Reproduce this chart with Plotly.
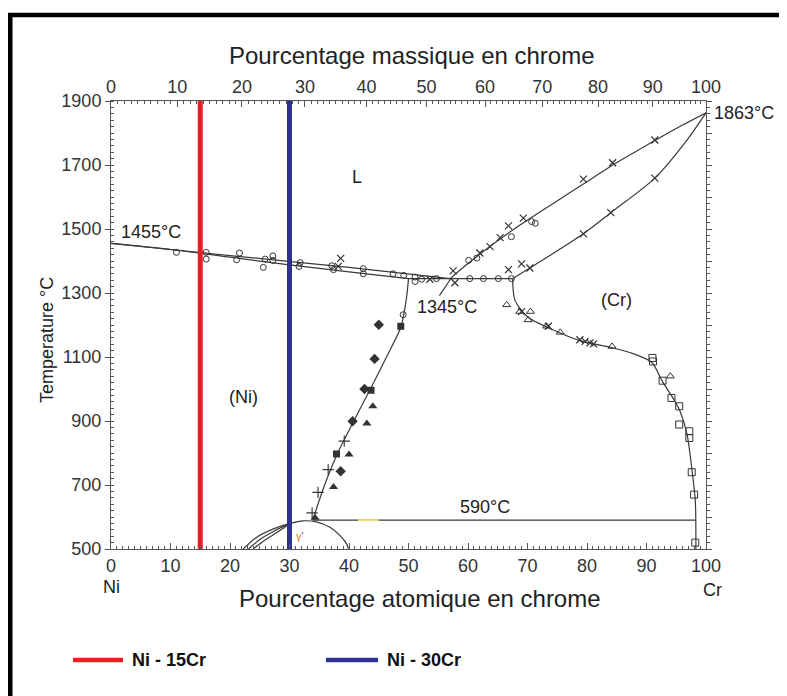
import plotly.graph_objects as go

# ---------------- data (atomic % Cr, temperature °C) ----------------
alloy_names = ["Ni - 15Cr", "Ni - 30Cr"]
alloy_x = [15, 30]
alloy_colors = ["#ed1c24", "#2e3192"]

liq_ni_x = [0, 20, 40, 57]
liq_ni_T = [1455, 1417, 1380, 1345]
sol_ni_x = [0, 10, 20, 30, 40, 50]
sol_ni_T = [1455, 1436, 1412, 1388, 1366, 1345]

liq_cr_x = [57, 60, 64, 68, 72, 76, 80, 84, 88, 92, 96, 100]
liq_cr_T = [1345, 1392, 1450, 1503, 1552, 1600, 1648, 1696, 1740, 1783, 1824, 1863]
sol_cr_x = [67.5, 70.4, 79.4, 84.0, 91.4, 96.8, 100]
sol_cr_T = [1345, 1378, 1485, 1551, 1659, 1778, 1863]

solv_ni_x = [50, 49.7, 49.2, 48.7, 46.3, 43.6, 40.8, 38.1, 35.9, 33.9]
solv_ni_T = [1345, 1290, 1232, 1192, 1100, 1000, 900, 800, 700, 590]
solv_cr_x = [67.5, 67.9, 70.1, 73.8, 78.8, 83.9, 87.2, 90.9, 92.6, 94.5, 95.6, 96.8, 97.6, 98.2, 98.3]
solv_cr_T = [1345, 1277, 1224, 1189, 1151, 1130, 1114, 1083, 1026, 970, 932, 860, 754, 650, 500]

eut_x = [50, 67.5]
eut_T = [1345, 1345]
eutd_x = [33.9, 98.25]
eutd_T = [590, 590]
yellow_x = [41.5, 45.0]
yellow_T = [590, 590]

gp_x = [22.2, 24.5, 27.3, 30.1, 32.3, 34.5, 36.8, 38.5, 39.6, 39.9]
gp_T = [500, 537, 563, 580, 588, 585, 568, 542, 516, 500]
gp_a1_x = [23.1, 25.2, 27.6, 30.1]
gp_a1_T = [500, 532, 558, 580]
gp_a2_x = [23.9, 25.9, 28.0, 30.1]
gp_a2_T = [500, 528, 553, 580]

lead_x = [55.2, 57.3]
lead_T = [1292, 1350]

circ_x = [11.0, 16.0, 16.0, 21.6, 21.1, 25.9, 27.2, 25.6, 27.2, 31.8, 31.6, 37.1, 37.4, 42.4, 42.4,
          47.4, 49.2, 51.1, 51.1, 52.2, 54.7, 60.3, 62.6, 65.1, 67.3, 49.1,
          60.1, 61.5, 67.3, 70.7, 71.3]
circ_T = [1427, 1427, 1406, 1425, 1404, 1406, 1416, 1380, 1402, 1395, 1383, 1385, 1373, 1376, 1360,
          1360, 1355, 1350, 1336, 1343, 1345, 1345, 1345, 1345, 1345, 1232,
          1402, 1409, 1476, 1523, 1518]

cross_x = [38.6, 38.2, 53.6, 57.5, 62.0, 63.7, 65.4, 66.8, 69.3, 79.4, 84.3, 91.4,
           66.8, 69.0, 70.4, 79.4, 84.0, 91.4, 57.8,
           69.0, 73.5, 78.8, 79.7, 80.5, 81.1]
cross_T = [1408, 1383, 1343, 1369, 1425, 1445, 1473, 1510, 1534, 1656, 1707, 1778,
           1373, 1391, 1378, 1485, 1551, 1659, 1332,
           1242, 1196, 1154, 1149, 1144, 1141]

otri_x = [66.5, 68.7, 70.5, 70.1, 73.2, 75.5, 84.2, 94.0]
otri_T = [1263, 1242, 1242, 1216, 1196, 1177, 1133, 1040]

osq_x = [91.0, 91.1, 92.7, 94.2, 95.5, 95.5, 97.2, 97.2, 97.6, 98.0, 98.2]
osq_T = [1097, 1086, 1026, 972, 946, 889, 868, 847, 740, 670, 520]

fdia_x = [45.0, 44.3, 42.6, 40.6, 38.6]
fdia_T = [1201, 1094, 1000, 899, 743]
fsq_x = [48.7, 43.7, 37.9]
fsq_T = [1196, 996, 797]
ftri_x = [44.0, 43.0, 40.0, 37.4, 34.3]
ftri_T = [946, 892, 795, 694, 598]
plus_x = [39.2, 36.5, 34.8, 33.8]
plus_T = [837, 748, 677, 613]

mass_ticks = [0, 10, 20, 30, 40, 50, 60, 70, 80, 90, 100]
at_ticks = [0, 10, 20, 30, 40, 50, 60, 70, 80, 90, 100]
T_ticks = [500, 700, 900, 1100, 1300, 1500, 1700, 1900]

M_CR, M_NI = 51.996, 58.693


def mass_to_at(w):
    a = w / M_CR
    b = (100 - w) / M_NI
    return 100 * a / (a + b)


LINE = dict(color="#3a3a3a", width=1.2)
MK = "#333333"
FONT = "Liberation Sans, Arial, Helvetica, sans-serif"

fig = go.Figure()


def curve(x, y, smooth=True, line=LINE):
    ln = dict(line)
    if smooth:
        ln.update(shape="spline", smoothing=0.8)
    fig.add_trace(go.Scatter(x=x, y=y, mode="lines", line=ln, hoverinfo="skip", showlegend=False))


curve(liq_ni_x, liq_ni_T)
curve(sol_ni_x, sol_ni_T)
curve(liq_cr_x, liq_cr_T)
curve(sol_cr_x, sol_cr_T)
curve(solv_ni_x, solv_ni_T)
curve(solv_cr_x, solv_cr_T)
curve(eut_x, eut_T, smooth=False)
curve(eutd_x, eutd_T, smooth=False)
curve(gp_x, gp_T)
curve(gp_a1_x, gp_a1_T)
curve(gp_a2_x, gp_a2_T)
curve(lead_x, lead_T, smooth=False)
curve(yellow_x, yellow_T, smooth=False, line=dict(color="#e8e07a", width=2))


def marks(x, y, symbol, size=7, lw=1.0):
    fig.add_trace(go.Scatter(x=x, y=y, mode="markers",
                             marker=dict(symbol=symbol, size=size, color=MK,
                                         line=dict(color=MK, width=lw)),
                             hoverinfo="skip", showlegend=False))


marks(circ_x, circ_T, "circle-open", 6)
marks(cross_x, cross_T, "x-thin-open", 7, 1.2)
marks(otri_x, otri_T, "triangle-up-open", 7)
marks(osq_x, osq_T, "square-open", 7)
marks(fdia_x, fdia_T, "diamond", 8, 0)
marks(fsq_x, fsq_T, "square", 7, 0)
marks(ftri_x, ftri_T, "triangle-up", 8, 0)
marks(plus_x, plus_T, "cross-thin-open", 8, 1.1)

for name, x, c in zip(alloy_names, alloy_x, alloy_colors):
    fig.add_trace(go.Scatter(x=[x, x], y=[500, 1900], mode="lines", name=name,
                             line=dict(color=c, width=5), hoverinfo="skip", showlegend=False))

# small blue marker on the top axis
fig.add_trace(go.Scatter(x=[mass_to_at(30)], y=[1906], mode="markers", cliponaxis=False,
                         marker=dict(symbol="triangle-up", size=6, color="#2e3192"),
                         hoverinfo="skip", showlegend=False))

# helper trace for the secondary axes
fig.add_trace(go.Scatter(x=[50], y=[1000], xaxis="x2", yaxis="y2", mode="markers",
                         marker=dict(opacity=0), hoverinfo="skip", showlegend=False))

AX = "#555555"
TICKF = dict(family=FONT, size=18, color="#333333")

# page body adds an 8px offset: margins compensate so that the plot area sits at 111..706 x 101..549
fig.update_layout(
    width=787, height=696, autosize=False,
    margin=dict(l=103, r=89, t=93, b=155),
    paper_bgcolor="white", plot_bgcolor="white",
    font=dict(family=FONT, color="#222222"),
    xaxis=dict(range=[0, 100], tickvals=at_ticks, ticktext=[str(v) for v in at_ticks],
               ticks="inside", ticklen=6, tickcolor=AX, showline=True, linecolor=AX, linewidth=1,
               showgrid=False, zeroline=False, tickfont=TICKF,
               minor=dict(dtick=1, ticks="inside", ticklen=3, tickcolor=AX)),
    yaxis=dict(range=[500, 1900], tickvals=T_ticks, ticks="outside", ticklen=5, tickcolor=AX,
               showline=True, linecolor=AX, linewidth=1, showgrid=False, zeroline=False,
               tickfont=TICKF,
               minor=dict(dtick=20, tick0=500, ticks="inside", ticklen=3, tickcolor=AX)),
    xaxis2=dict(overlaying="x", side="top", anchor="y2", range=[0, 100],
                tickvals=[mass_to_at(w) for w in mass_ticks], ticktext=[str(w) for w in mass_ticks],
                ticks="inside", ticklen=6, tickcolor=AX, showline=True, linecolor=AX, linewidth=1,
                showgrid=False, zeroline=False, tickfont=TICKF,
                minor=dict(tickvals=[mass_to_at(w) for w in range(1, 100)], ticks="inside",
                           ticklen=3, tickcolor=AX)),
    yaxis2=dict(overlaying="y", side="right", anchor="x2", range=[500, 1900],
                tickvals=list(range(500, 2000, 100)), ticks="outside", ticklen=5, tickcolor=AX,
                showticklabels=False, showline=True, linecolor=AX, linewidth=1,
                showgrid=False, zeroline=False,
                minor=dict(dtick=20, tick0=500, ticks="outside", ticklen=3, tickcolor=AX)),
)

ann = []


def txt(x, y, s, size=18, xref="x", yref="y", xanchor="center", yanchor="middle", color="#222222",
        family=FONT, textangle=0):
    ann.append(dict(x=x, y=y, text=s, xref=xref, yref=yref, xanchor=xanchor, yanchor=yanchor,
                    showarrow=False, textangle=textangle,
                    font=dict(family=family, size=size, color=color)))


txt(41.3, 1663, "L")
txt(22.2, 976, "(Ni)")
txt(85.0, 1279, "(Cr)")
txt(6.7, 1491, "1455°C")
txt(56.5, 1257, "1345°C")
txt(62.9, 630, "590°C")
txt(1.01, 1863, "1863°C", xref="paper", xanchor="left")
txt(31.8, 542, "<span style='color:#e0822a'>γ</span><span style='color:#3a55c0'>'</span>", size=11)

P = lambda px: (px - 111) / 595
Q = lambda py: (549 - py) / 448

txt(P(412), Q(55), "Pourcentage massique en chrome", size=24, xref="paper", yref="paper")
txt(P(420), Q(598), "Pourcentage atomique en chrome", size=24, xref="paper", yref="paper")
txt(P(47), Q(340), "Temperature °C", size=18, xref="paper", yref="paper", textangle=-90)
txt(P(111), Q(587), "Ni", size=18, xref="paper", yref="paper")
txt(P(712), Q(590), "Cr", size=18, xref="paper", yref="paper")

leg_pos = [(73, 123, 130), (326, 378, 385)]
shapes = []
for (x0, x1, xt), name, c in zip(leg_pos, alloy_names, alloy_colors):
    shapes.append(dict(type="line", xref="paper", yref="paper", x0=P(x0), x1=P(x1), y0=Q(660), y1=Q(660),
                       line=dict(color=c, width=4.5)))
    txt(P(xt), Q(660), "<b>" + name + "</b>", size=18, xref="paper", yref="paper", xanchor="left",
        color="#111111")

# outer frame (top and left edges)
shapes.append(dict(type="line", xref="paper", yref="paper", x0=P(8), x1=P(800), y0=Q(15), y1=Q(15),
                   line=dict(color="black", width=4.5)))
shapes.append(dict(type="line", xref="paper", yref="paper", x0=P(10), x1=P(10), y0=Q(13), y1=Q(710),
                   line=dict(color="black", width=5)))

fig.update_layout(annotations=ann, shapes=shapes)
fig.write_html("out.html")
